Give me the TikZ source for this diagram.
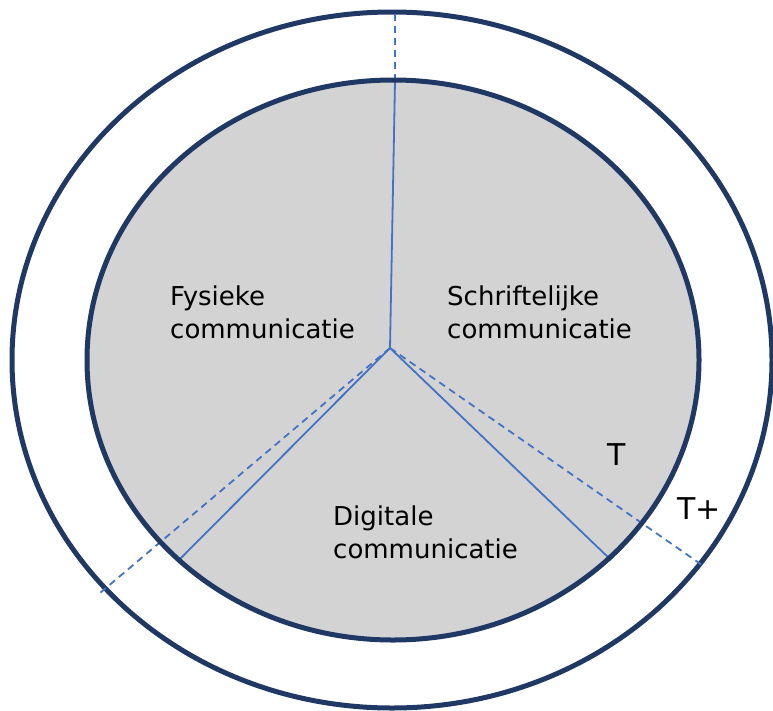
\documentclass[tikz,border=0pt]{standalone}
\usepackage{fontspec}
\setmainfont{DejaVu Sans}
\definecolor{ringblue}{HTML}{203864}
\definecolor{lineblue}{HTML}{4472C4}
\definecolor{fillgray}{HTML}{D3D3D3}
\tikzset{
  ring/.style={draw=ringblue, line width=5pt},
  sector/.style={draw=lineblue, line width=1.8pt},
  sectordash/.style={draw=lineblue, line width=1.8pt, dash pattern=on 7pt off 5pt},
  lbl/.style={anchor=base west, align=left, inner sep=0pt, font=\fontsize{26}{33}\selectfont},
  big/.style={anchor=base west, inner sep=0pt, font=\fontsize{30}{36}\selectfont}
}
\begin{document}
\begin{tikzpicture}[x=1pt, y=-1pt]
\useasboundingbox (0,0) rectangle (773,710);
% outer ring
\draw[ring, fill=white] (392,360) ellipse [x radius=380, y radius=348];
% inner disc
\fill[fillgray] (393,360) ellipse [x radius=306, y radius=280];
% coordinates
\coordinate (c) at (390,348);
\coordinate (itop) at (395,81);
\coordinate (otop) at (395,12);
\coordinate (ileft) at (178,561);
\coordinate (iright) at (611,560);
\coordinate (oleft) at (100,593);
\coordinate (oright) at (702,565);
% lines
\draw[sector] (c) -- (itop);
\draw[sectordash] (itop) -- (otop);
\draw[sector] (c) -- (ileft);
\draw[sector] (c) -- (iright);
\draw[sectordash] (c) -- (oleft);
\draw[sectordash] (c) -- (oright);
% inner ring stroke
\draw[ring] (393,360) ellipse [x radius=306, y radius=280];
% labels (base anchor = last line baseline)
\node[lbl] (fys) at (170,338) {Fysieke\\communicatie};
\node[lbl] (schr) at (447,338) {Schriftelijke\\communicatie};
\node[lbl] (dig) at (333,558) {Digitale\\communicatie};
\node[big] (t) at (607,465) {T};
\node[big] (tplus) at (677,519) {T+};
\end{tikzpicture}
\end{document}
